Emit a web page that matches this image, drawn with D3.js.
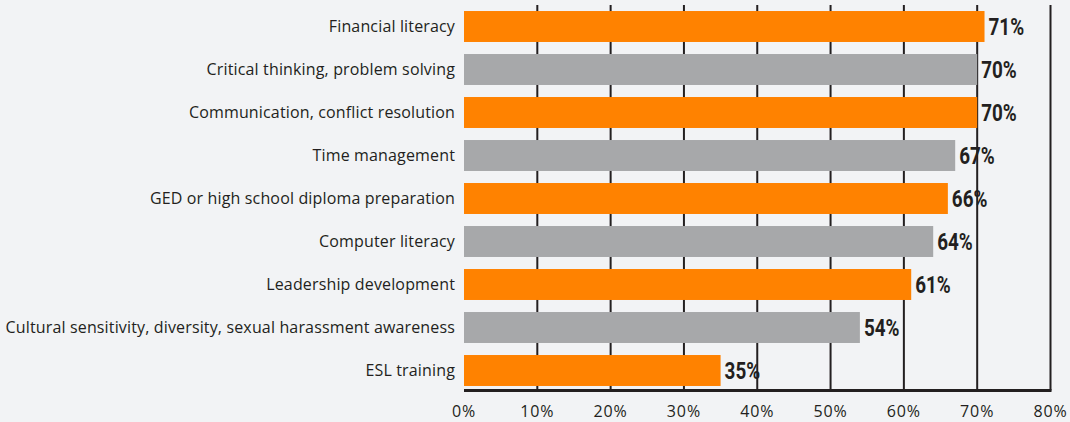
<!DOCTYPE html>
<html><head><meta charset="utf-8">
<script src="https://cdn.jsdelivr.net/npm/d3@7"></script>
<style>
html,body{margin:0;padding:0;background:#f2f3f5;}
svg{display:block;}
</style></head>
<body>
<svg id="chart" width="1070" height="422"></svg>
<script>
const categories = [
  "Financial literacy",
  "Critical thinking, problem solving",
  "Communication, conflict resolution",
  "Time management",
  "GED or high school diploma preparation",
  "Computer literacy",
  "Leadership development",
  "Cultural sensitivity, diversity, sexual harassment awareness",
  "ESL training"
];
const values = [71, 70, 70, 67, 66, 64, 61, 54, 35];
const seriesColors = ["#ff8200", "#a7a8aa"];
const xTicks = [0, 10, 20, 30, 40, 50, 60, 70, 80];

const svg = d3.select("#chart");
const W = 1070, H = 422;
svg.append("rect").attr("width", W).attr("height", H).attr("fill", "#f2f3f5");

const x = d3.scaleLinear().domain([0, 80]).range([464, 1050.5]);
const y = d3.scaleBand().domain(categories).range([5, 392]).paddingInner(0.28).paddingOuter(0.14);
const baseY = 390.5;

// grid lines
svg.append("g").selectAll("line").data(xTicks.filter(t => t > 0)).join("line")
  .attr("x1", d => x(d)).attr("x2", d => x(d))
  .attr("y1", 5).attr("y2", baseY)
  .attr("stroke", "#231f20").attr("stroke-width", 2);

// bars
svg.append("g").selectAll("rect").data(categories).join("rect")
  .attr("x", x(0)).attr("y", d => y(d))
  .attr("width", (d, i) => x(values[i]) - x(0))
  .attr("height", y.bandwidth())
  .attr("fill", (d, i) => seriesColors[i % 2]);

// baseline
svg.append("line").attr("x1", x(0)).attr("x2", x(80) + 1)
  .attr("y1", baseY).attr("y2", baseY)
  .attr("stroke", "#231f20").attr("stroke-width", 3);

// category labels
svg.append("g").selectAll("text").data(categories).join("text")
  .attr("x", 455).attr("y", d => y(d) + y.bandwidth() / 2)
  .attr("dy", "0.36em").attr("text-anchor", "end")
  .attr("font-family", "'Open Sans', sans-serif").attr("font-size", 16)
  .attr("letter-spacing", 0.15)
  .attr("fill", "#231f20")
  .text(d => d);

// value labels (condensed bold)
svg.append("g").selectAll("text").data(categories).join("text")
  .attr("transform", (d, i) => `translate(${x(values[i]) + 4},${y(d) + y.bandwidth() / 2}) scale(0.82,1)`)
  .attr("dy", "0.36em")
  .attr("font-family", "Roboto, sans-serif")
  .attr("font-weight", "bold").attr("font-size", 23)
  .attr("fill", "#231f20")
  .text((d, i) => values[i] + "%");

// x axis tick labels
svg.append("g").selectAll("text").data(xTicks).join("text")
  .attr("x", d => x(d)).attr("y", 416.5)
  .attr("text-anchor", "middle")
  .attr("font-family", "'Open Sans', sans-serif").attr("font-size", 16)
  .attr("letter-spacing", 0.9)
  .attr("fill", "#231f20")
  .text(d => d + "%");
</script>
</body></html>
